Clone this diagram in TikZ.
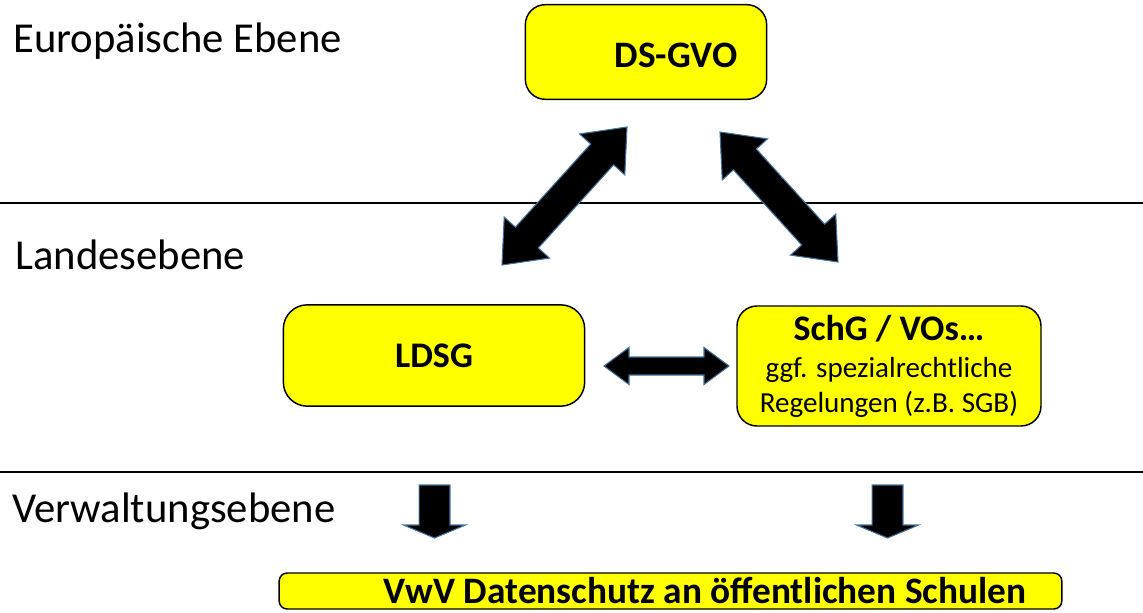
\documentclass[tikz,border=0pt]{standalone}
\usepackage{fontspec}
\setmainfont{Carlito}
\usepackage{tikz}
\usetikzlibrary{calc,positioning}
\definecolor{arrowblue}{RGB}{65,113,156}
\definecolor{lawyellow}{RGB}{255,255,0}
\tikzset{
	lawbox/.style={draw=black, line width=1.1pt, fill=lawyellow, rounded corners=15pt, inner sep=0pt, align=center, font=\bfseries},
	lawtext/.style={inner sep=0pt, align=center, font=\bfseries},
	levellabel/.style={anchor=base west, inner sep=0pt, font=\fontsize{32}{38}\selectfont},
	levelline/.style={line width=1.5pt},
	blockarrow/.style={fill=black, draw=arrowblue, line width=0.8pt, line join=miter}
}
% double block arrow: (tip a)(tip b)(head length:head half width:shaft half width)
\def\dblarrow(#1)(#2)(#3:#4:#5){%
	\coordinate (ha) at ($(#1)!#3!(#2)$);
	\coordinate (hb) at ($(#2)!#3!(#1)$);
	\draw[blockarrow] (#1) -- ($(ha)!#4!90:(#2)$) -- ($(ha)!#5!90:(#2)$) -- ($(hb)!#5!-90:(#1)$) -- ($(hb)!#4!-90:(#1)$) -- (#2)
		-- ($(hb)!#4!90:(#1)$) -- ($(hb)!#5!90:(#1)$) -- ($(ha)!#5!-90:(#2)$) -- ($(ha)!#4!-90:(#2)$) -- cycle;}
% single block arrow: (tail)(tip)(head length:head half width:shaft half width)
\def\sglarrow(#1)(#2)(#3:#4:#5){%
	\coordinate (hb) at ($(#2)!#3!(#1)$);
	\draw[blockarrow] ($(#1)!#5!90:(#2)$) -- ($(hb)!#5!-90:(#1)$) -- ($(hb)!#4!-90:(#1)$) -- (#2)
		-- ($(hb)!#4!90:(#1)$) -- ($(hb)!#5!90:(#1)$) -- ($(#1)!#5!-90:(#2)$) -- cycle;}

\begin{document}
\begin{tikzpicture}[x=0.75pt, y=-0.75pt]
		%%%%% START %%%%%
		\useasboundingbox (0, 0) rectangle (1143, 612);
		
		% levels
		\draw[levelline] (0, 203) -- (1143, 203);
		\draw[levelline] (0, 472) -- (1143, 472);
		
		\node[levellabel] (eu) at (13, 52) {Europäische Ebene};
		\node[levellabel] (land) at (15, 269) {Landesebene};
		\node[levellabel] (verw) at (12, 522) {Verwaltungsebene};
		
		% laws
		\node[lawbox, minimum width=181pt, minimum height=71pt] (dsgvo) at (646, 52) {};
		\node[lawtext, font=\bfseries\fontsize{28}{34}\selectfont] (dsgvo-text) at (676, 55) {DS-GVO};
		\node[lawbox, minimum width=226pt, minimum height=76pt, rounded corners=18pt, font=\bfseries\fontsize{27}{32}\selectfont] (ldsg) at (434, 355.5) {LDSG};
		\node[lawbox, minimum width=228pt, minimum height=90pt, font=\fontsize{21.8}{26}\selectfont] (schg) at (889, 366)
			{{\bfseries\fontsize{27}{30}\selectfont SchG / VOs…}\\[2pt] ggf. spezialrechtliche\\ Regelungen (z.B. SGB)};
		\node[lawbox, minimum width=587pt, minimum height=27pt, rounded corners=6pt] (vwv) at (670.5, 591) {};
		\node[lawtext, font=\bfseries\fontsize{28}{30}\selectfont] (vwv-text) at (705, 591)
			{VwV Datenschutz an öffentlichen Schulen};
		
		% arrows
		\coordinate (gvo-l) at (627, 127);
		\coordinate (ldsg-t) at (502, 265);
		\coordinate (gvo-r) at (720, 132);
		\coordinate (schg-t) at (838, 262);
		\coordinate (ldsg-r) at (604, 366);
		\coordinate (schg-l) at (729, 366);
		\coordinate (ldsg-b) at (434.5, 485);
		\coordinate (vwv-l) at (434.5, 538);
		\coordinate (schg-b) at (887.5, 485);
		\coordinate (vwv-r) at (887.5, 538);
		
		\dblarrow(gvo-l)(ldsg-t)(27.75pt:22.9pt:11.6pt);
		\dblarrow(gvo-r)(schg-t)(27.75pt:22.9pt:11.6pt);
		\dblarrow(ldsg-r)(schg-l)(18.75pt:13.9pt:6.75pt);
		\sglarrow(ldsg-b)(vwv-l)(9.75pt:23.25pt:11.6pt);
		\sglarrow(schg-b)(vwv-r)(9.75pt:23.25pt:11.6pt);
		
		%%%%% END %%%%%
	\end{tikzpicture}
\end{document}
